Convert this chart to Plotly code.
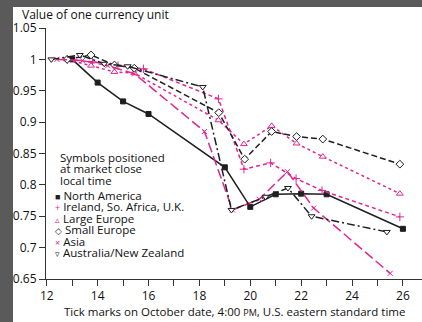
import plotly.graph_objects as go

# Market-close positions (fractional October dates, on a 4:00 PM EST scale) and values
na_x = [13, 14, 15, 16, 19, 20, 21, 22, 23, 26]
na_y = [1.0, 0.963, 0.933, 0.913, 0.828, 0.765, 0.785, 0.786, 0.785, 0.730]

ire_x = [12.8, 13.8, 14.8, 15.8, 18.75, 19.75, 20.8, 21.8, 22.82, 25.88]
ire_y = [1.0, 0.996, 0.99, 0.985, 0.937, 0.825, 0.835, 0.81, 0.791, 0.749]

leu_x = [12.8, 13.74, 14.66, 15.44, 18.75, 19.75, 20.84, 21.82, 22.85, 25.88]
leu_y = [1.0, 0.990, 0.980, 0.978, 0.903, 0.865, 0.894, 0.866, 0.845, 0.786]

seu_x = [12.8, 13.74, 14.66, 15.44, 18.76, 19.78, 20.84, 21.82, 22.85, 25.88]
seu_y = [1.0, 1.007, 0.991, 0.986, 0.915, 0.841, 0.885, 0.877, 0.873, 0.833]

asia_x = [12.4, 13.4, 14.4, 15.45, 18.2, 19.3, 20.35, 21.46, 22.49, 25.5]
asia_y = [1.0, 0.998, 0.99, 0.977, 0.885, 0.76, 0.777, 0.821, 0.763, 0.659]

aus_x = [12.18, 13.3, 14.26, 15.18, 18.13, 19.26, 20.6, 21.48, 22.41, 25.37]
aus_y = [1.0, 1.007, 0.993, 0.989, 0.956, 0.76, 0.781, 0.795, 0.75, 0.725]

x_ticks = [12, 14, 16, 18, 20, 22, 24, 26]
y_ticks = [0.65, 0.7, 0.75, 0.8, 0.85, 0.9, 0.95, 1.0, 1.05]

PINK = "#e3268f"
DARK = "#1e1e1e"
FONT = "Open Sans"

W, H = 422, 322
L, R, T, B = 46, 0, 28, 43
PW, PH = W - L - R, H - T - B


def px(x):
    return (x - L) / PW


def py(y):
    return (H - B - y) / PH


# (x, y, colour, dash, symbol, size, filled-with-white)
series = [
    (na_x, na_y, DARK, "solid", "square", 5, False),
    (ire_x, ire_y, PINK, "4px,3px", "cross-thin", 6, False),
    (leu_x, leu_y, PINK, "dot", "triangle-up", 6, True),
    (seu_x, seu_y, DARK, "6px,3px", "diamond", 6, True),
    (asia_x, asia_y, PINK, "10px,4px", "x-thin", 5, False),
    (aus_x, aus_y, DARK, "8px,3px,2px,3px", "triangle-down", 6, True),
]

fig = go.Figure()
for xs, ys, col, dash, sym, size, hollow in series:
    fig.add_trace(go.Scatter(
        x=xs, y=ys, mode="lines+markers",
        line=dict(color=col, width=1.5, dash=dash),
        marker=dict(symbol=sym, size=size, color="white" if hollow else col,
                    line=dict(color=col, width=1)),
        showlegend=False,
    ))

axis_common = dict(
    showgrid=False, zeroline=False, showline=True, linecolor="#333", linewidth=1,
    ticks="outside", ticklen=6, tickcolor="#333", tickwidth=1,
    tickfont=dict(family=FONT, size=12, color="#111"),
)

fig.update_xaxes(range=[11.97, 26.75], tickvals=x_ticks,
                 minor=dict(dtick=1, tick0=12, ticks="outside", ticklen=6, tickcolor="#333"),
                 **axis_common)
fig.update_yaxes(range=[0.65, 1.05], tickvals=y_ticks, **axis_common)

annotations = [
    dict(x=px(20), y=py(14), text="Value of one currency unit", xanchor="left",
         yanchor="middle", font=dict(size=12)),
    dict(x=px(234), y=py(312), text="Tick marks on October date, 4:00 <span style='font-size:9px'>PM</span>, U.S. eastern standard time",
         xanchor="center", yanchor="middle", font=dict(size=11.5)),
]

note_lines = [("Symbols positioned", 157), ("at market close", 168.5), ("local time", 180)]
for txt, yy in note_lines:
    annotations.append(dict(x=px(58), y=py(yy), text=txt, xanchor="left", yanchor="middle",
                            font=dict(size=11.5)))

legend_rows = [
    ("■", DARK, "North America", 195),
    ("+", PINK, "Ireland, So. Africa, U.K.", 206.5),
    ("▵", PINK, "Large Europe", 218),
    ("◇", DARK, "Small Europe", 229.5),
    ("×", PINK, "Asia", 241),
    ("▿", DARK, "Australia/New Zealand", 252.5),
]
for sym, col, name, yy in legend_rows:
    annotations.append(dict(
        x=px(53), y=py(yy),
        text=f"<span style='color:{col};font-size:9px'>{sym}</span> {name}",
        xanchor="left", yanchor="middle", font=dict(size=11.5)))

for a in annotations:
    a.update(xref="paper", yref="paper", showarrow=False)
    a["font"] = dict(family=FONT, color="#111", **a["font"])

fig.update_layout(
    width=W, height=H,
    margin=dict(l=L, r=R, t=T, b=B),
    paper_bgcolor="#5a5a5a",
    plot_bgcolor="white",
    annotations=annotations,
    shapes=[dict(type="rect", xref="paper", yref="paper", layer="below",
                 x0=px(13), x1=px(W + 5), y0=py(H + 5), y1=py(7),
                 fillcolor="white", line=dict(width=0))],
)

fig.write_html("out.html")
